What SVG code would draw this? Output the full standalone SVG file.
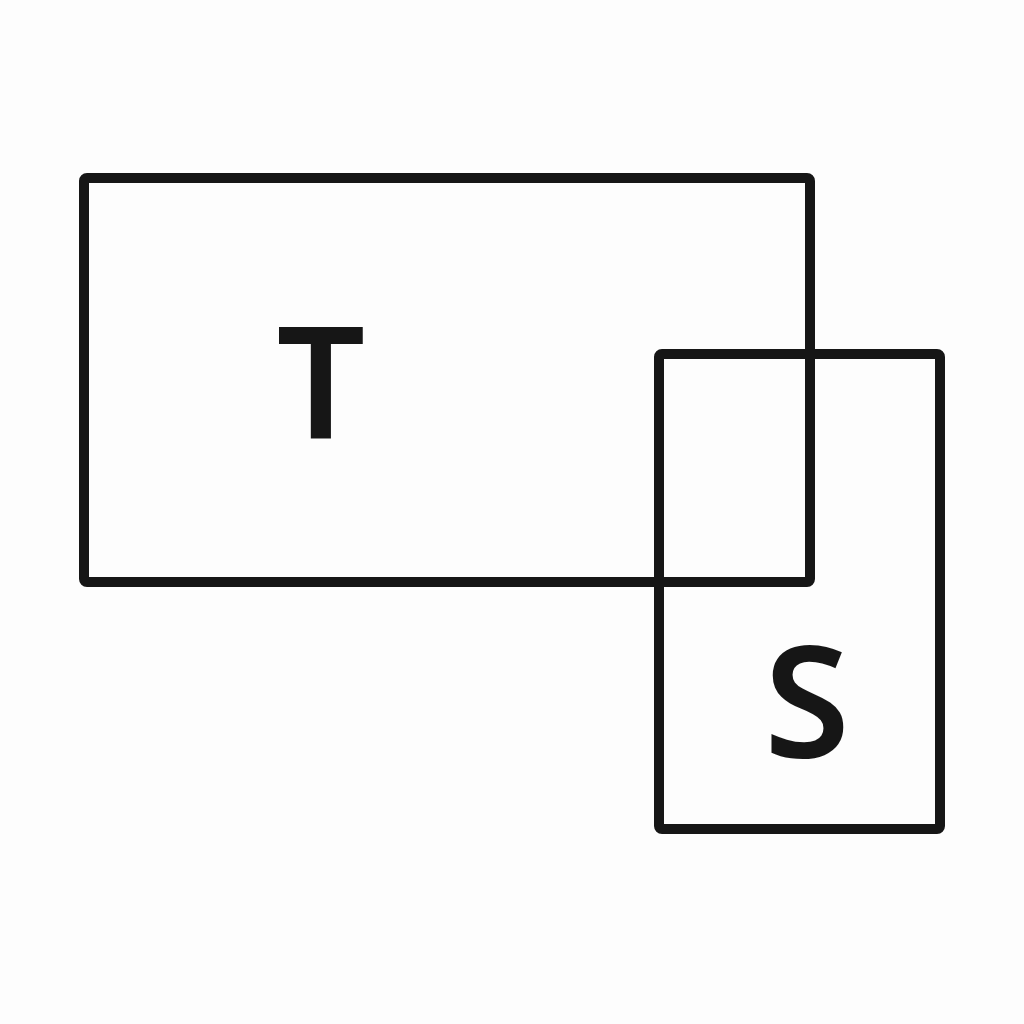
<svg xmlns="http://www.w3.org/2000/svg" width="1024" height="1024" viewBox="0 0 1024 1024">
<style>
.box{fill:none;stroke:#161616;stroke-width:10;stroke-linejoin:round}
.lbl{font-family:"Noto Sans","Liberation Sans",sans-serif;font-size:156px;font-weight:600;fill:#161616;text-anchor:middle}
</style>
<rect width="1024" height="1024" fill="#fdfdfd"/>
<g id="node-T">
<rect class="box" x="84" y="178" width="726" height="404" rx="3"/>
<text class="lbl" x="321" y="438">T</text>
</g>
<g id="node-S">
<rect class="box" x="659" y="354" width="281" height="475" rx="3"/>
<text class="lbl" x="807" y="757">S</text>
</g>
<g id="connectors"></g>
</svg>
